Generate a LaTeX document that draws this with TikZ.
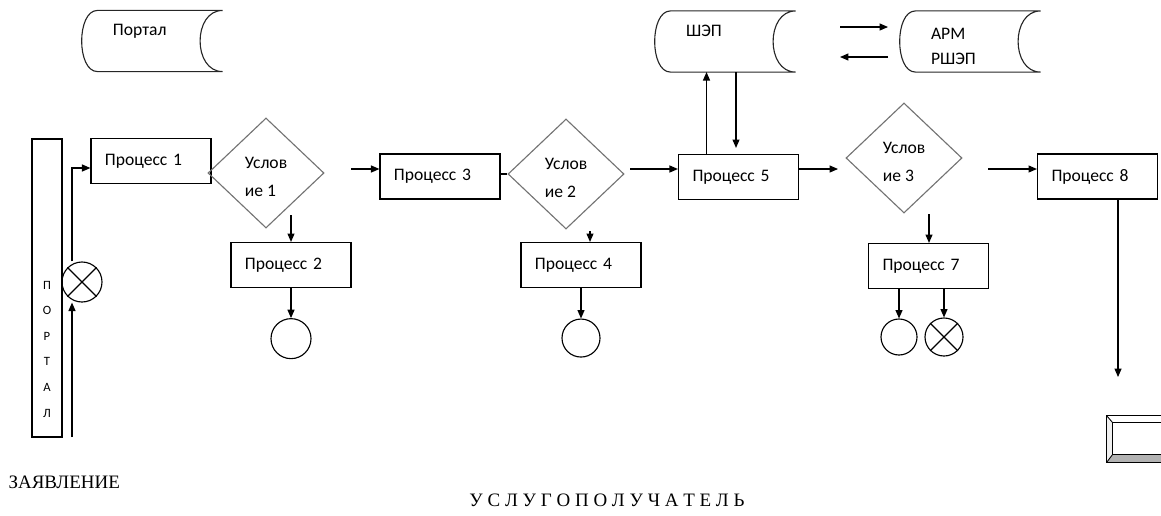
\documentclass[tikz,border=0pt]{standalone}
\usepackage{fontspec}
\setmainfont{Carlito}
\newfontfamily\timesfont{Liberation Serif}
\usetikzlibrary{shapes.geometric,positioning,arrows.meta}

\begin{document}
\begin{tikzpicture}[x=0.025cm, y=-0.025cm, line width=0.8pt, font=\fontsize{12.5}{18.4}\selectfont]
    % Define styles
    \tikzstyle{process} = [rectangle, minimum width=3cm, minimum height=1.125cm, text width=2.3cm, inner xsep=0.35cm, align=left, draw=black]
    \tikzstyle{decision} = [diamond, minimum width=2.9cm, minimum height=2.75cm, inner sep=0pt, align=left, text height=33.5pt, draw=black!55, font=\fontsize{12.5}{20}\selectfont]
    \tikzstyle{store} = [rectangle, minimum width=3.5cm, minimum height=1.5cm, text width=1.95cm, inner xsep=0.775cm, text height=11pt, align=left]
    \tikzstyle{term} = [circle, minimum size=1cm, inner sep=0pt, draw=black]
    \tikzstyle{caption} = [inner sep=0pt, font=\timesfont\fontsize{13.5}{16}\selectfont]
    \tikzstyle{arrow} = [-{Stealth[inset=0pt, length=6pt, width=5pt]}]

    \useasboundingbox (0,0) rectangle (1161,515);

    % Nodes
    \node (portal) [store] at (152,41) {Портал\\\mbox{}};
    \node (shep) [store] at (725,41.5) {ШЭП\\\mbox{}};
    \node (arm) [store, text height=15pt] at (970,41.5) {АРМ\\РШЭП};
    \node (bar) [rectangle, draw=black, minimum width=0.75cm, minimum height=7.45cm] at (47,288) {};
    \node (bartxt) [align=center, font=\fontsize{9}{18.2}\selectfont] at (47,349) {П\\О\\Р\\Т\\А\\Л};
    \node (x1) [term] at (82,282) {};
    \node (p1) [process] at (151,161) {Процесс 1};
    \node (d1) [decision] at (266,173) {Услов\\ие 1};
    \node (p2) [process] at (291,265) {Процесс 2};
    \node (c1) [term, below=0.75cm of p2] {};
    \node (p3) [process] at (440,176.5) {Процесс 3};
    \node (d2) [decision] at (566,174) {Услов\\ие 2};
    \node (p4) [process] at (581,265) {Процесс 4};
    \node (c2) [term, minimum size=0.95cm, below=0.76cm of p4] {};
    \node (p5) [process] at (738.5,177) {Процесс 5};
    \node (d3) [decision] at (904,158) {Услов\\ие 3};
    \node (p7) [process] at (928.5,266) {Процесс 7};
    \node (c3) [term, minimum size=0.9cm] at (899,337) {};
    \node (x2) [term, minimum size=0.95cm] at (944,337) {};
    \node (p8) [process] at (1097.5,176.5) {Процесс 8};
    \node (claim) [caption, anchor=west] at (8,482) {ЗАЯВЛЕНИЕ};
    \node (receiver) [caption] at (607,500) {У С Л У Г О П О Л У Ч А Т Е Л Ь};

    % Stored data outlines and crossed circles
    \foreach \n in {portal,shep,arm}
        \draw [black!85] ([shift={(16,0)}]\n.north west) -- (\n.north east)
            .. controls ([shift={(-30,0)}]\n.north east) and ([shift={(-30,0)}]\n.south east) .. (\n.south east)
            -- ([shift={(16,0)}]\n.south west)
            .. controls ([shift={(-5,0)}]\n.south west) and ([shift={(-5,0)}]\n.north west) .. ([shift={(16,0)}]\n.north west);
    \foreach \n in {x1,x2}
        \draw (\n.north west) -- (\n.south east) (\n.north east) -- (\n.south west);

    % Arrows
    \coordinate (in1) at (72,437);
    \coordinate (bend1) at (72,168);
    \draw [arrow] (in1) -- (in1 |- x1.south);
    \draw [arrow] (in1 |- x1.north) -- (bend1) -- (bend1 -| p1.west);
    \coordinate (d1s) at (291,215);
    \draw [arrow] (d1s) -- (p2.north);
    \draw [arrow] (p2.south) -- (c1.north);
    \coordinate (a13) at (351,169);
    \draw [arrow] (a13) -- (a13 -| p3.west);
    \draw (p3.east |- d2.west) -- (d2.west);
    \coordinate (d2s) at (590,231);
    \draw [arrow] (d2s) -- (d2s |- p4.north);
    \draw [arrow] (p4.south) -- (c2.north);
    \coordinate (a25) at (630,169);
    \draw [arrow] (a25) -- (a25 -| p5.west);
    \coordinate (up5) at ([shift={(-32,0)}]p5.north);
    \coordinate (dn5) at ([shift={(-2.5,-6)}]p5.north);
    \draw [arrow] (up5) -- (up5 |- shep.south);
    \draw [arrow] (dn5 |- shep.south) -- (dn5);
    \coordinate (sa1) at (840,27);
    \coordinate (sa2) at (888,57);
    \draw [arrow] (sa1) -- (sa1 -| sa2);
    \draw [arrow] (sa2) -- (sa2 -| sa1);
    \coordinate (a53) at (838,169);
    \draw [arrow] (a53 -| p5.east) -- (a53);
    \coordinate (a38) at (988,169);
    \draw [arrow] (a38) -- (a38 -| p8.west);
    \coordinate (d3s) at (929,214);
    \draw [arrow] (d3s) -- (d3s |- p7.north);
    \draw [arrow] (p7.south -| c3) -- (c3.north);
    \draw [arrow] (p7.south -| x2) -- (x2.north);
    \coordinate (e8) at (1118,377);
    \draw [arrow] (e8 |- p8.south) -- (e8);

    % Final box, cut by the page edge
    \begin{scope}[line width=0.6pt]
        \clip (0,0) rectangle (1161,515);
        \node (fin) [rectangle, minimum width=1.6cm, minimum height=1.15cm] at (1139,439) {};
        \fill [gray!60] (fin.south west) -- ([shift={(6,-8)}]fin.south west) -- ([shift={(-6,-8)}]fin.south east) -- (fin.south east) -- cycle;
        \fill [gray!12] (fin.south west) -- ([shift={(6,-8)}]fin.south west) -- ([shift={(6,7)}]fin.north west) -- (fin.north west) -- cycle;
        \draw (fin.north west) rectangle (fin.south east);
        \draw ([shift={(6,7)}]fin.north west) rectangle ([shift={(-6,-8)}]fin.south east);
        \draw (fin.north west) -- ([shift={(6,7)}]fin.north west) (fin.south west) -- ([shift={(6,-8)}]fin.south west);
    \end{scope}
\end{tikzpicture}
\end{document}
